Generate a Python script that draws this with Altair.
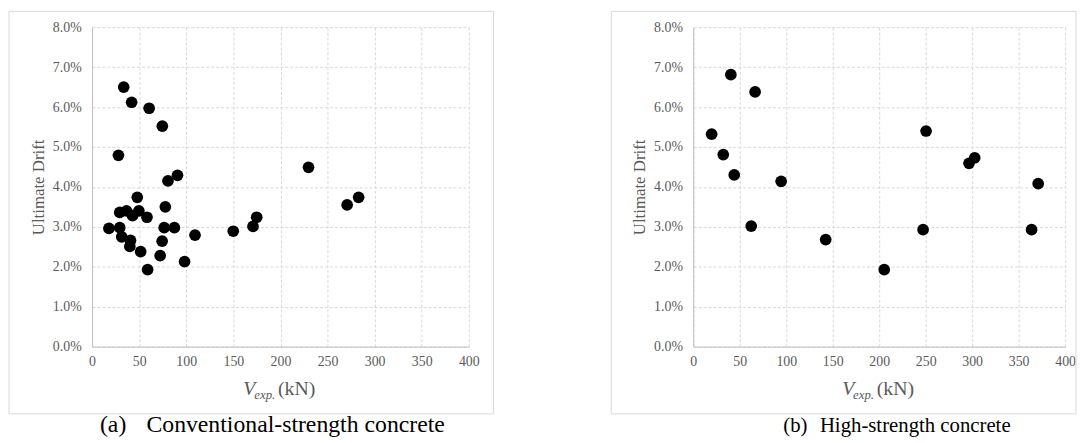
import altair as alt
import pandas as pd

# ---- data ----
conv_v = [33.6, 42.0, 60.6, 74.6, 28.0, 229.8, 90.7, 80.6, 48.0, 283.0, 270.8, 77.8,
          29.4, 36.6, 43.0, 49.7, 58.3, 174.8, 170.9, 17.9, 29.4, 76.6, 87.4, 149.9,
          109.3, 31.5, 40.8, 74.4, 40.1, 51.6, 72.3, 98.2, 59.0]
conv_drift = [6.50, 6.12, 5.97, 5.52, 4.79, 4.49, 4.29, 4.15, 3.74, 3.74, 3.55, 3.50,
              3.36, 3.40, 3.28, 3.40, 3.24, 3.24, 3.01, 2.96, 2.98, 2.98, 2.98, 2.89,
              2.79, 2.75, 2.66, 2.64, 2.51, 2.38, 2.28, 2.13, 1.93]

hsc_v = [19.7, 32.2, 40.4, 44.0, 66.5, 62.3, 94.5, 142.4, 205.4, 250.4, 247.2,
         296.6, 302.7, 363.9, 371.0]
hsc_drift = [5.32, 4.81, 6.81, 4.30, 6.38, 3.02, 4.14, 2.68, 1.93, 5.40, 2.93,
             4.59, 4.73, 2.93, 4.08]

x_ticks = [0, 50, 100, 150, 200, 250, 300, 350, 400]
y_ticks = [0.00, 0.01, 0.02, 0.03, 0.04, 0.05, 0.06, 0.07, 0.08]

y_title = "Ultimate Drift"
x_title_main = "V"
x_title_sub = "exp."
x_title_unit = "(kN)"
captions = [("(a)", "Conventional-strength concrete"), ("(b)", "High-strength concrete")]

SERIF = "Times New Roman, Liberation Serif, serif"
GREY = "#595959"
H = 323


def panel(v, d, w, frame_l, frame_r, cap, cap_lab_x, cap_txt_x, cap_size):
    df = pd.DataFrame({"v": v, "drift": [x / 100 for x in d]})
    one = pd.DataFrame({"k": [0]})

    frame = alt.Chart(one).mark_rect(fill="transparent", stroke="#d9d9d9", strokeWidth=1).encode(
        x=alt.value(frame_l), x2=alt.value(frame_r), y=alt.value(-16), y2=alt.value(391)
    )

    pts = alt.Chart(df).mark_circle(size=140, color="black", opacity=1).encode(
        x=alt.X("v:Q", scale=alt.Scale(domain=[0, 400], nice=False, zero=True),
                axis=alt.Axis(values=x_ticks, title=None, grid=True, gridColor="#d9d9d9",
                              gridDash=[3, 2], domainColor="#bfbfbf", ticks=False,
                              labelFont=SERIF, labelFontSize=14, labelColor=GREY,
                              labelPadding=8, labelFlush=False)),
        y=alt.Y("drift:Q", scale=alt.Scale(domain=[0, 0.08], nice=False),
                axis=alt.Axis(values=y_ticks, format=".1%", title=y_title, grid=True,
                              gridColor="#d9d9d9", gridDash=[3, 2], domainColor="#bfbfbf",
                              ticks=False, labelFont=SERIF, labelFontSize=14,
                              labelColor=GREY, labelPadding=11, titleFont=SERIF,
                              titleFontSize=17, titleFontWeight="normal", titleColor=GREY,
                              titlePadding=5)),
    )

    c = w / 2
    tV = alt.Chart(one).mark_text(text=x_title_main, font=SERIF, fontStyle="italic", fontSize=20,
                                  align="left", baseline="alphabetic", color=GREY).encode(
        x=alt.value(c - 37.5), y=alt.value(372))
    tS = alt.Chart(one).mark_text(text=x_title_sub, font=SERIF, fontStyle="italic", fontSize=13,
                                  align="left", baseline="alphabetic", color=GREY).encode(
        x=alt.value(c - 26.5), y=alt.value(376))
    tU = alt.Chart(one).mark_text(text=x_title_unit, font=SERIF, fontSize=20,
                                  align="left", baseline="alphabetic", color=GREY).encode(
        x=alt.value(c - 2.5), y=alt.value(372))

    capA = alt.Chart(one).mark_text(text=cap[0], font=SERIF, fontSize=cap_size, align="left",
                                    baseline="alphabetic", color="black").encode(
        x=alt.value(cap_lab_x), y=alt.value(409))
    capB = alt.Chart(one).mark_text(text=cap[1], font=SERIF, fontSize=cap_size, align="left",
                                    baseline="alphabetic", color="black").encode(
        x=alt.value(cap_txt_x), y=alt.value(409))

    return alt.layer(frame, pts, tV, tS, tU, capA, capB).properties(width=w, height=H)


left = panel(conv_v, conv_drift, 381, -84, 406, captions[0], 8, 55, 24)
right = panel(hsc_v, hsc_drift, 376, -83, 387, captions[1], 91, 128, 21)

chart = alt.hconcat(left, right, spacing=117).properties(
    padding={"left": 0, "top": 0, "right": 0, "bottom": 0},
    autosize=alt.AutoSizeParams(type="pad"),
).configure_view(strokeWidth=0)

chart.save("out.html", embed_options={"renderer": "svg", "actions": False})
